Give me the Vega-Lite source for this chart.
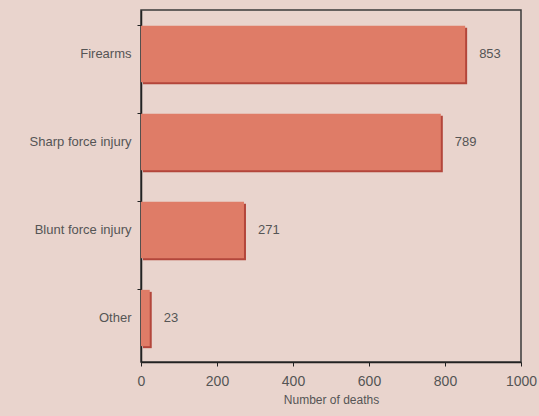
{
  "$schema": "https://vega.github.io/schema/vega-lite/v6.json",
  "autosize": "none",
  "padding": {"left": 141, "top": 10, "right": 18, "bottom": 54},
  "width": 380,
  "height": 352,
  "background": "#e9d4cd",
  "config": {
    "view": {"stroke": "#3a3a3a", "strokeWidth": 1.5},
    "font": "Liberation Sans",
    "axis": {"labelFont": "Liberation Sans", "titleFont": "Liberation Sans", "labelColor": "#555", "titleColor": "#555", "domainColor": "#222", "tickColor": "#222", "grid": false}
  },
  "data": {
    "values": [
      {"cause": "Firearms", "deaths": 853},
      {"cause": "Sharp force injury", "deaths": 789},
      {"cause": "Blunt force injury", "deaths": 271},
      {"cause": "Other", "deaths": 23}
    ]
  },
  "encoding": {
    "y": {
      "field": "cause", "type": "nominal", "sort": null,
      "scale": {"paddingInner": 0.36, "paddingOuter": 0.18},
      "axis": {"title": null, "labelFontSize": 13, "labelPadding": 6, "tickSize": 4, "bandPosition": 0, "domainWidth": 1.5, "labelLimit": 200}
    },
    "x": {
      "field": "deaths", "type": "quantitative",
      "scale": {"domain": [0, 1000], "nice": false},
      "axis": {"title": "Number of deaths", "titleFontSize": 12, "titleFontWeight": "normal", "titlePadding": 6, "labelFontSize": 14, "format": "d", "values": [0, 200, 400, 600, 800, 1000], "labelOverlap": false, "tickSize": 4, "labelPadding": 8, "domainWidth": 1.5, "labelFlush": false}
    }
  },
  "layer": [
    {"mark": {"type": "bar", "color": "#b3463b", "xOffset": 2, "yOffset": 2}},
    {"mark": {"type": "bar", "color": "#df7c67"}},
    {"mark": {"type": "text", "align": "left", "dx": 14, "fontSize": 13, "color": "#555"}, "encoding": {"text": {"field": "deaths", "type": "quantitative"}}}
  ]
}
